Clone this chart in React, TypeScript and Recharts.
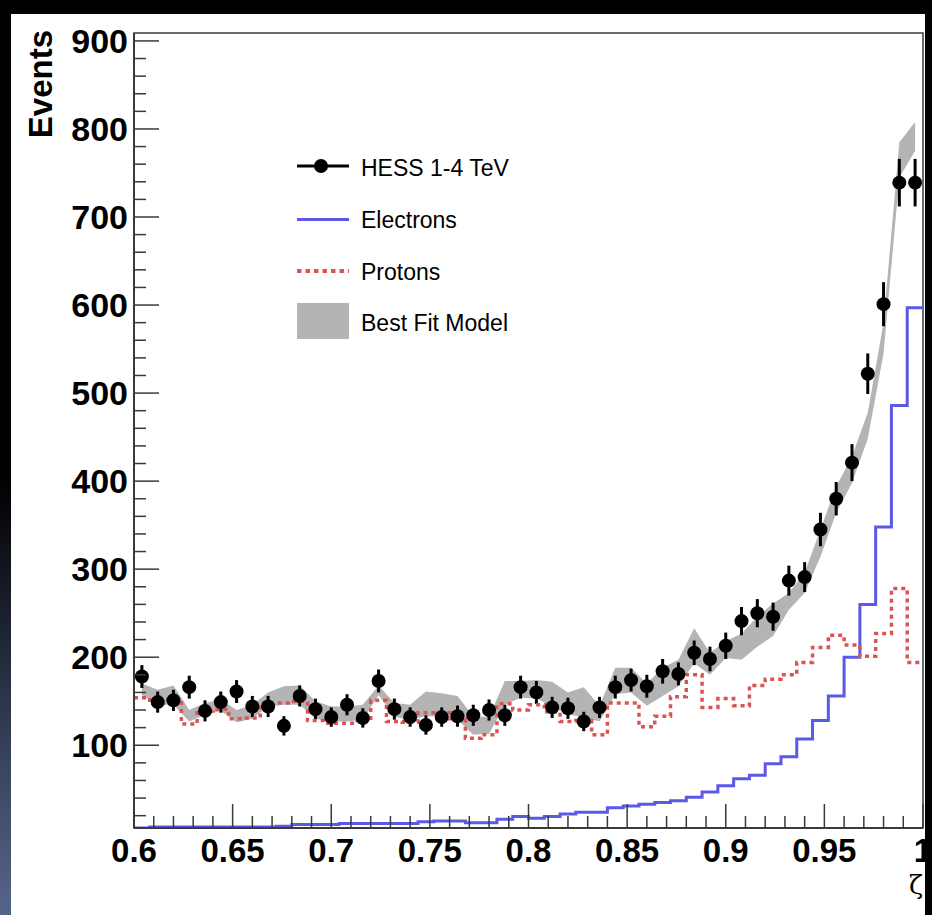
import React from 'react';
import {
  ComposedChart,
  Area,
  Line,
  Scatter,
  XAxis,
  YAxis,
  ErrorBar,
  ReferenceArea,
  Legend,
} from 'recharts';

// ---------- data ----------
const binEdges = [
  0.6, 0.608, 0.616, 0.624, 0.632, 0.64, 0.648, 0.656, 0.664, 0.672, 0.68, 0.688, 0.696,
  0.704, 0.712, 0.72, 0.728, 0.736, 0.744, 0.752, 0.76, 0.768, 0.776, 0.784, 0.792, 0.8,
  0.808, 0.816, 0.824, 0.832, 0.84, 0.848, 0.856, 0.864, 0.872, 0.88, 0.888, 0.896, 0.904,
  0.912, 0.92, 0.928, 0.936, 0.944, 0.952, 0.96, 0.968, 0.976, 0.984, 0.992, 1.0,
];
const binCenters = [
  0.604, 0.612, 0.62, 0.628, 0.636, 0.644, 0.652, 0.66, 0.668, 0.676, 0.684, 0.692, 0.7,
  0.708, 0.716, 0.724, 0.732, 0.74, 0.748, 0.756, 0.764, 0.772, 0.78, 0.788, 0.796, 0.804,
  0.812, 0.82, 0.828, 0.836, 0.844, 0.852, 0.86, 0.868, 0.876, 0.884, 0.892, 0.9, 0.908,
  0.916, 0.924, 0.932, 0.94, 0.948, 0.956, 0.964, 0.972, 0.98, 0.988, 0.996,
];
const hessCounts = [
  178, 149, 151, 166, 139, 149, 161, 144, 144, 122,
  156, 141, 132, 146, 131, 173, 141, 132, 123, 132,
  133, 134, 140, 134, 166, 160, 143, 142, 127, 143,
  166, 174, 167, 184, 181, 205, 198, 213, 241, 250,
  246, 287, 291, 345, 380, 421, 522, 601, 739, 739,
];
const hessErrors = [
  13, 12, 12, 13, 12, 12, 13, 12, 12, 11,
  12, 12, 11, 12, 11, 13, 12, 11, 11, 11,
  12, 12, 12, 12, 13, 13, 12, 12, 11, 12,
  13, 13, 13, 14, 13, 14, 14, 15, 16, 16,
  16, 17, 17, 19, 19, 21, 23, 25, 27, 27,
];
const electronCounts = [
  6, 7, 7, 7, 7, 7, 7, 7, 7, 8,
  10, 10, 10, 11, 11, 11, 11, 11, 13, 14,
  14, 12, 12, 16, 19, 17, 19, 22, 24, 24,
  29, 31, 33, 35, 37, 41, 47, 54, 62, 66,
  79, 87, 107, 128, 156, 200, 260, 348, 486, 597,
];
const protonCounts = [
  154, 148, 151, 124, 139, 141, 130, 131, 148, 148,
  150, 128, 125, 125, 128, 151, 127, 126, 137, 137,
  130, 108, 112, 147, 140, 146, 138, 127, 128, 112,
  148, 148, 121, 133, 155, 180, 143, 153, 145, 168,
  175, 180, 194, 211, 225, 214, 201, 227, 278, 194,
];
const modelLow = [
  157, 146, 146, 127, 135, 139, 126, 130, 144, 146,
  146, 130, 127, 127, 129, 157, 132, 129, 133, 133,
  129, 112, 113, 146, 154, 153, 144, 135, 132, 127,
  158, 160, 145, 156, 167, 193, 180, 199, 197, 212,
  224, 254, 273, 314, 364, 398, 448, 545, 745, 775,
];
const modelHigh = [
  170, 163, 168, 140, 148, 152, 140, 146, 160, 167,
  168, 150, 144, 144, 146, 168, 148, 146, 161, 159,
  156, 133, 132, 173, 173, 174, 172, 160, 166, 145,
  188, 188, 170, 188, 197, 233, 205, 218, 227, 246,
  261, 273, 296, 345, 394, 428, 478, 580, 785, 808,
];

const xTicks = [
  0.6, 0.61, 0.62, 0.63, 0.64, 0.65, 0.66, 0.67, 0.68, 0.69, 0.7, 0.71, 0.72, 0.73, 0.74,
  0.75, 0.76, 0.77, 0.78, 0.79, 0.8, 0.81, 0.82, 0.83, 0.84, 0.85, 0.86, 0.87, 0.88, 0.89,
  0.9, 0.91, 0.92, 0.93, 0.94, 0.95, 0.96, 0.97, 0.98, 0.99, 1.0,
];
const xMajorTicks = [0.6, 0.65, 0.7, 0.75, 0.8, 0.85, 0.9, 0.95, 1.0];
const xMajorLabels = ['0.6', '0.65', '0.7', '0.75', '0.8', '0.85', '0.9', '0.95', '1'];
const yTicks = [
  20, 40, 60, 80, 100, 120, 140, 160, 180, 200, 220, 240, 260, 280, 300, 320, 340, 360, 380,
  400, 420, 440, 460, 480, 500, 520, 540, 560, 580, 600, 620, 640, 660, 680, 700, 720, 740,
  760, 780, 800, 820, 840, 860, 880, 900,
];
const yMajorTicks = [100, 200, 300, 400, 500, 600, 700, 800, 900];
const yMajorLabels = ['100', '200', '300', '400', '500', '600', '700', '800', '900'];
const legendLabels = ['HESS 1-4 TeV', 'Electrons', 'Protons', 'Best Fit Model'];

// ---------- derived tables ----------
const pointRows = binCenters.map((x, i) => ({ x, y: hessCounts[i], err: hessErrors[i] }));
const bandRows = binCenters.map((x, i) => ({ x, range: [modelLow[i], modelHigh[i]] }));
const histRows = (vals: number[]) =>
  binEdges.map((x, k) => ({ x, v: vals[Math.min(k, vals.length - 1)] }));
const electronRows = histRows(electronCounts);
const protonRows = histRows(protonCounts);

// ---------- style ----------
const W = 932;
const H = 915;
const BAND = '#b4b4b4';
const BLUE = '#5a5ae6';
const RED = '#d95555';
const AXIS = '#3a3a3a';
const FONT = '"Liberation Sans", Arial, Helvetica, sans-serif';

const XTick = (props: any) => {
  const { x, y, payload } = props;
  const idx = xMajorTicks.findIndex((t) => Math.abs(t - payload.value) < 1e-6);
  const major = idx >= 0;
  return (
    <g>
      <line x1={x} x2={x} y1={y} y2={y - (major ? 24 : 12)} stroke={AXIS} strokeWidth={1.5} />
      {major && (
        <text
          x={x}
          y={y + 34}
          textAnchor="middle"
          fontFamily={FONT}
          fontWeight="bold"
          fontSize={33}
          fill="#000"
        >
          {xMajorLabels[idx]}
        </text>
      )}
    </g>
  );
};

const YTick = (props: any) => {
  const { x, y, payload } = props;
  const idx = yMajorTicks.indexOf(payload.value);
  const major = idx >= 0;
  return (
    <g>
      <line x1={x} x2={x + (major ? 25 : 12)} y1={y} y2={y} stroke={AXIS} strokeWidth={1.5} />
      {major && (
        <text
          x={x - 6}
          y={y + 12}
          textAnchor="end"
          fontFamily={FONT}
          fontWeight="bold"
          fontSize={34}
          fill="#000"
        >
          {yMajorLabels[idx]}
        </text>
      )}
    </g>
  );
};

const Marker = (p: any) => <circle cx={p.cx} cy={p.cy} r={7} fill="#000" />;

const LegendBox = () => (
  <svg width={240} height={200} style={{ display: 'block', overflow: 'visible' }}>
    <line x1={7} x2={59} y1={21} y2={21} stroke="#000" strokeWidth={3} />
    <circle cx={31} cy={21} r={7} fill="#000" />
    <text x={71} y={31} fontFamily={FONT} fontSize={23} fill="#000">
      {legendLabels[0]}
    </text>
    <line x1={7} x2={59} y1={74.5} y2={74.5} stroke={BLUE} strokeWidth={3} />
    <text x={71} y={83} fontFamily={FONT} fontSize={23} fill="#000">
      {legendLabels[1]}
    </text>
    <line x1={7} x2={59} y1={126} y2={126} stroke={RED} strokeWidth={4} strokeDasharray="4.5 4" />
    <text x={71} y={135} fontFamily={FONT} fontSize={23} fill="#000">
      {legendLabels[2]}
    </text>
    <rect x={7} y={158} width={52} height={36} fill={BAND} />
    <text x={71} y={186} fontFamily={FONT} fontSize={23} fill="#000">
      {legendLabels[3]}
    </text>
  </svg>
);

export default function App() {
  return (
    <div
      style={{
        position: 'absolute',
        left: 0,
        top: 0,
        width: W,
        height: H,
        background: '#000',
        overflow: 'hidden',
      }}
    >
      <div
        style={{
          position: 'absolute',
          left: 0,
          top: 0,
          width: 11,
          height: H,
          background:
            'linear-gradient(to bottom, #000 0%, #000 52%, #1c2230 68%, #3a4660 84%, #55658a 100%)',
        }}
      />
      <div
        style={{ position: 'absolute', left: 11, top: 14, width: 914, height: H - 14, background: '#fff' }}
      />
      <div style={{ position: 'absolute', left: 0, top: 0 }}>
        <ComposedChart width={W} height={H} margin={{ top: 33, right: 9, bottom: 0, left: 0 }}>
          <XAxis
            type="number"
            dataKey="x"
            domain={[0.6, 1.0]}
            ticks={xTicks}
            interval={0}
            tickSize={0}
            tickMargin={0}
            height={87}
            allowDataOverflow
            axisLine={{ stroke: AXIS, strokeWidth: 2 }}
            tick={XTick}
            label={{
              value: 'ζ',
              content: (p: any) => {
                const vb = p.viewBox || { x: 134, y: 828, width: 789 };
                return (
                  <text
                    x={vb.x + vb.width}
                    y={vb.y + 66}
                    textAnchor="end"
                    fontFamily='"DejaVu Serif", "Liberation Serif", serif'
                    fontSize={26}
                    fill="#000"
                  >
                    ζ
                  </text>
                );
              },
            }}
          />
          <YAxis
            type="number"
            domain={[6, 909]}
            ticks={yTicks}
            interval={0}
            width={134}
            tickSize={0}
            tickMargin={0}
            allowDataOverflow
            axisLine={{ stroke: AXIS, strokeWidth: 2 }}
            tick={YTick}
            label={{
              value: 'Events',
              content: (p: any) => {
                const vb = p.viewBox || { x: 0, y: 33 };
                const tx = vb.x + 52;
                const ty = vb.y - 3;
                return (
                  <text
                    x={tx}
                    y={ty}
                    transform={`rotate(-90 ${tx} ${ty})`}
                    textAnchor="end"
                    fontFamily={FONT}
                    fontWeight="bold"
                    fontSize={33}
                    fill="#000"
                  >
                    Events
                  </text>
                );
              },
            }}
          />
          <Area
            data={bandRows}
            dataKey="range"
            type="linear"
            fill={BAND}
            fillOpacity={1}
            stroke="none"
            isAnimationActive={false}
          />
          <Scatter
            data={pointRows}
            dataKey="y"
            fill="#000"
            shape={Marker}
            isAnimationActive={false}
          >
            <ErrorBar dataKey="err" direction="y" width={0} stroke="#000" strokeWidth={3} />
          </Scatter>
          <Line
            data={electronRows}
            dataKey="v"
            type="stepAfter"
            stroke={BLUE}
            strokeWidth={3}
            dot={false}
            activeDot={false}
            isAnimationActive={false}
          />
          <Line
            data={protonRows}
            dataKey="v"
            type="stepAfter"
            stroke={RED}
            strokeWidth={3.5}
            strokeDasharray="4 4"
            dot={false}
            activeDot={false}
            isAnimationActive={false}
          />
          <ReferenceArea
            x1={0.6}
            x2={1.0}
            y1={6}
            y2={909}
            fill="none"
            stroke={AXIS}
            strokeWidth={1.5}
          />
          <Legend
            layout="vertical"
            align="center"
            verticalAlign="middle"
            wrapperStyle={{ left: 290, top: 145, width: 240, height: 200, pointerEvents: 'none' }}
            content={() => <LegendBox />}
          />
        </ComposedChart>
      </div>
    </div>
  );
}
